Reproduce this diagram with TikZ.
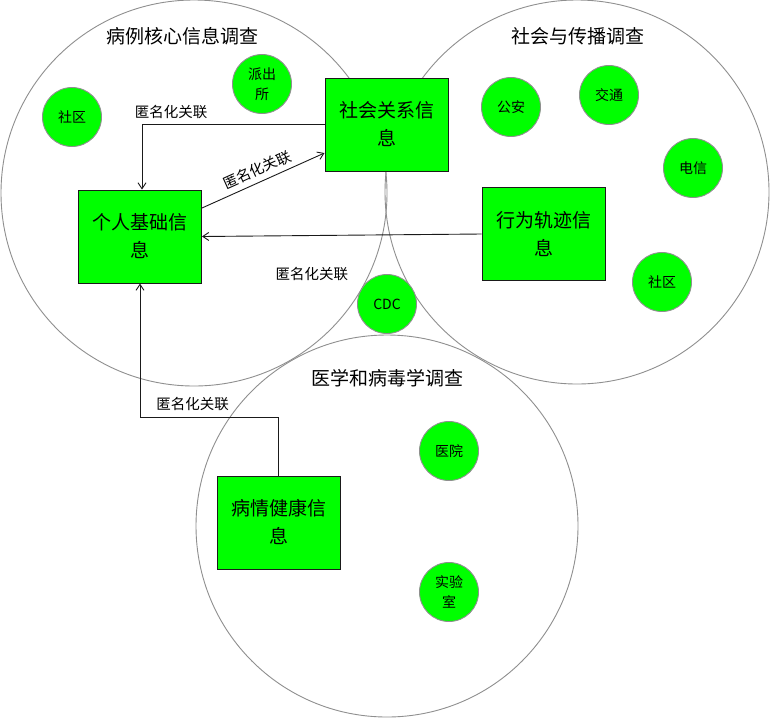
\documentclass[tikz,border=0pt]{standalone}
\usepackage{fontspec}
\setmainfont{Noto Sans CJK SC}
\usetikzlibrary{arrows.meta}
\definecolor{grn}{HTML}{00FF00}
\definecolor{cgray}{HTML}{8F8F8F}
\definecolor{ln}{HTML}{1A1A1A}
\tikzset{
  bigc/.style={circle, draw=cgray, line width=0.9pt, minimum size=#1, inner sep=0pt},
  smallc/.style={circle, draw=cgray, fill=grn, line width=0.9pt, minimum size=59pt, inner sep=0pt, font=\fontsize{14pt}{20pt}\selectfont, align=center},
  infobox/.style={rectangle, draw=ln, fill=grn, line width=1pt, minimum width=123pt, minimum height=93pt, inner sep=0pt, font=\fontsize{19pt}{28pt}\selectfont, align=center},
  ttl/.style={font=\fontsize{19pt}{22pt}\selectfont, inner sep=0pt},
  lbl/.style={font=\fontsize{14.5pt}{17pt}\selectfont, inner sep=0pt},
  arr/.style={draw=ln, line width=0.9pt, -{Straight Barb[length=6pt,width=8pt]}}
}
\begin{document}
\begin{tikzpicture}[x=1pt,y=-1pt]
\useasboundingbox[fill=white] (0,0) rectangle (770,718);
% big circles
\node[bigc=386pt] (c1) at (194,193) {};
\node[bigc=384pt] (c2) at (577,192) {};
\node[bigc=382pt] (c3) at (387,526) {};
% titles
\node[ttl] (t1) at (182,36) {病例核心信息调查};
\node[ttl] (t2) at (578,36) {社会与传播调查};
\node[ttl] (t3) at (387,378) {医学和病毒学调查};
% small circles
\node[smallc] (sq1) at (72,117) {社区};
\node[smallc] (pcs) at (262,84) {派出\\所};
\node[smallc] (ga) at (511,107) {公安};
\node[smallc] (jt) at (609,95) {交通};
\node[smallc] (dx) at (693,168) {电信};
\node[smallc] (sq2) at (662,282) {社区};
\node[smallc] (cdc) at (387,304) {CDC};
\node[smallc] (yy) at (449,451) {医院};
\node[smallc] (syc) at (449,592) {实验\\室};
% boxes
\node[infobox] (soc) at (386.5,124.5) {社会关系信\\息};
\node[infobox] (pers) at (140,236.5) {个人基础信\\息};
\node[infobox] (trk) at (543.5,234) {行为轨迹信\\息};
\node[infobox] (hlth) at (278.5,522.5) {病情健康信\\息};
% connectors
\draw[arr] (soc.west) -| node[lbl, pos=0.42, above=5pt] (l1) {匿名化关联} ([xshift=2pt]pers.north);
\draw[arr] ([yshift=28.5pt]pers.east) -- node[lbl, pos=0.49, above=5pt, sloped] (l2) {匿名化关联} ([yshift=-28.5pt]soc.west);
\draw[arr] (trk.west) -- node[lbl, pos=0.607, yshift=-39pt] (l3) {匿名化关联} (pers.east);
\draw[arr] (hlth.north) -- ++(0,-58) -| node[lbl, pos=0.31, above=6pt] (l4) {匿名化关联} (pers.south);
\end{tikzpicture}
\end{document}
